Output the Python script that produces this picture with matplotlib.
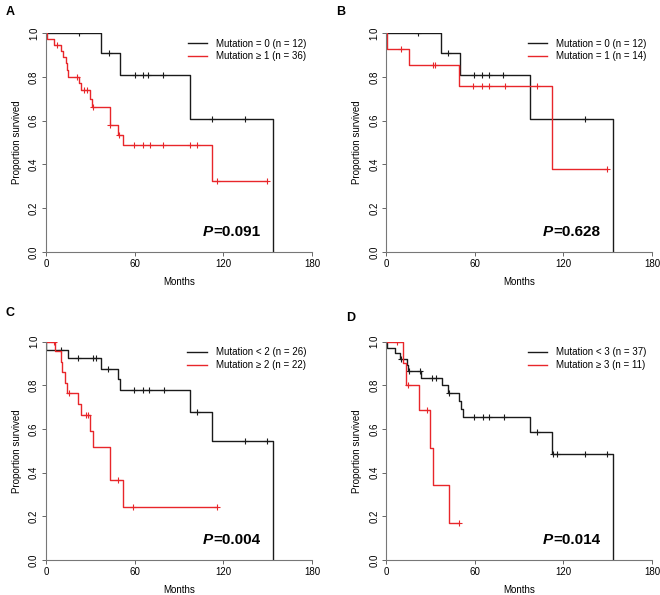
import numpy as np
import matplotlib
matplotlib.use('Agg')
import matplotlib.pyplot as plt

plt.rcParams['font.family'] = ['Liberation Sans', 'DejaVu Sans']

# ---- panel A ----
a_black_t = [0, 37.2, 50.0, 97.5, 153.4]
a_black_s = [1.0, 0.909, 0.808, 0.606, 0.0]
a_black_cens = [22.3, 42.9, 60.0, 65.4, 69.3, 79.4, 112.6, 134.7]
a_black_end = 153.4
a_red_t = [0, 0.4, 5.4, 9.9, 11.5, 13.3, 14.4, 14.9, 22.3, 24.0, 29.5, 31.4, 43.0, 48.7, 52.0, 112.3]
a_red_s = [1.0, 0.972, 0.944, 0.916, 0.890, 0.862, 0.833, 0.800, 0.770, 0.738, 0.700, 0.664, 0.581, 0.536, 0.487, 0.325]
a_red_cens = [7.7, 21.0, 25.7, 27.5, 32.0, 43.5, 49.5, 59.6, 65.4, 70.4, 79.4, 97.5, 102.4, 115.5, 149.3]
a_red_end = 149.3

# ---- panel B ----
b_black_t = [0, 37.2, 50.0, 97.5, 153.4]
b_black_s = [1.0, 0.909, 0.808, 0.606, 0.0]
b_black_cens = [21.9, 42.2, 59.8, 65.2, 69.3, 79.4, 134.7]
b_black_end = 153.4
b_red_t = [0, 0.3, 15.3, 49.0, 112.1]
b_red_s = [1.0, 0.929, 0.852, 0.757, 0.378]
b_red_cens = [10.2, 32.0, 33.0, 59.1, 64.7, 69.9, 80.5, 102.4, 149.3]
b_red_end = 149.3

# ---- panel C ----
c_black_t = [0, 0.3, 15.1, 37.2, 49.0, 50.0, 97.5, 112.1, 153.4]
c_black_s = [1.0, 0.962, 0.925, 0.877, 0.830, 0.779, 0.680, 0.546, 0.0]
c_black_cens = [10.2, 21.9, 32.0, 33.6, 42.2, 59.6, 65.4, 69.7, 80.0, 102.4, 134.7, 149.3]
c_black_end = 153.4
c_red_t = [0, 6.1, 9.9, 11.0, 12.9, 14.0, 21.9, 23.7, 29.8, 32.0, 43.3, 52.3]
c_red_s = [1.0, 0.955, 0.909, 0.860, 0.811, 0.766, 0.714, 0.663, 0.590, 0.517, 0.368, 0.245]
c_red_cens = [5.6, 15.4, 27.0, 28.2, 49.0, 59.1, 115.5]
c_red_end = 115.5

# ---- panel D ----
d_black_t = [0, 0.3, 5.9, 9.3, 14.4, 15.1, 23.5, 37.7, 42.2, 49.4, 50.5, 52.1, 97.5, 112.1, 153.4]
d_black_s = [1.0, 0.973, 0.946, 0.920, 0.893, 0.866, 0.835, 0.801, 0.767, 0.730, 0.693, 0.657, 0.584, 0.486, 0.0]
d_black_cens = [10.0, 15.8, 23.0, 30.9, 33.8, 42.9, 59.8, 65.4, 69.9, 80.1, 102.4, 113.2, 115.5, 134.7, 149.3]
d_black_end = 153.4
d_red_t = [0, 11.3, 13.5, 22.6, 29.8, 32.0, 42.6]
d_red_s = [1.0, 0.900, 0.800, 0.686, 0.514, 0.343, 0.171]
d_red_cens = [7.2, 15.0, 27.5, 49.4]
d_red_end = 49.4

panels = [
    ('A', [0.0697, 0.5765, 0.403, 0.368], (6, 12),
     (a_black_t, a_black_s, a_black_cens, a_black_end),
     (a_red_t, a_red_s, a_red_cens, a_red_end),
     ['Mutation = 0 (n = 12)', 'Mutation \u2265 1 (n = 36)'], '0.091'),
    ('B', [0.585, 0.5765, 0.403, 0.368], (336, 12),
     (b_black_t, b_black_s, b_black_cens, b_black_end),
     (b_red_t, b_red_s, b_red_cens, b_red_end),
     ['Mutation = 0 (n = 12)', 'Mutation = 1 (n = 14)'], '0.628'),
    ('C', [0.0697, 0.0588, 0.403, 0.367], (6, 313),
     (c_black_t, c_black_s, c_black_cens, c_black_end),
     (c_red_t, c_red_s, c_red_cens, c_red_end),
     ['Mutation < 2 (n = 26)', 'Mutation \u2265 2 (n = 22)'], '0.004'),
    ('D', [0.585, 0.0588, 0.403, 0.367], (346, 318),
     (d_black_t, d_black_s, d_black_cens, d_black_end),
     (d_red_t, d_red_s, d_red_cens, d_red_end),
     ['Mutation < 3 (n = 37)', 'Mutation \u2265 3 (n = 11)'], '0.014'),
]


def km_curve(ax, t, s, cens, end, color):
    x = list(t) + [end]
    y = list(s) + [s[-1]]
    line, = ax.plot(x, y, drawstyle='steps-post', color=color, lw=1.0)
    idx = np.searchsorted(t, cens, side='right') - 1
    cy = np.array(s)[idx]
    ax.plot(cens, cy, linestyle='none', marker='+', color=color,
            markersize=5, markeredgewidth=0.8)
    return line


fig = plt.figure(figsize=(6.6, 5.95), dpi=100)
for letter, rect, lpos, black, red, labels, pval in panels:
    ax = fig.add_axes(rect)
    l1 = km_curve(ax, *black, color='#1a1a1a')
    l2 = km_curve(ax, *red, color='#e8262a')
    ax.set_xlim(0, 180)
    ax.set_ylim(0, 1)
    ax.set_xticks([0, 60, 120, 180])
    ax.set_yticks([0, 0.2, 0.4, 0.6, 0.8, 1.0])
    ax.set_yticklabels(['0.0', '0.2', '0.4', '0.6', '0.8', '1.0'], rotation=90, va='center')
    ax.tick_params(labelsize=7, length=3, width=0.7, color='#666666', pad=2)
    for sp in ['top', 'right']:
        ax.spines[sp].set_visible(False)
    for sp in ['left', 'bottom']:
        ax.spines[sp].set_color('#777777')
        ax.spines[sp].set_linewidth(0.8)
    ax.set_xlabel('Months', fontsize=7, labelpad=6)
    ax.set_ylabel('Proportion survived', fontsize=7, labelpad=5)
    ax.legend([l1, l2], labels, loc='upper right', bbox_to_anchor=(1.0, 1.0),
              frameon=False, fontsize=7, handlelength=2.0, handletextpad=0.9,
              labelspacing=0.25, borderaxespad=0.2)
    ptxt = ax.text(0.59, 0.09, 'P', fontsize=11, fontweight='bold', fontstyle='italic',
                   transform=ax.transAxes, va='center', ha='left')
    ax.annotate('=' + pval, xy=(1.0, 0.5), xycoords=ptxt, fontsize=11,
                fontweight='bold', va='center', ha='left')
    fig.text(lpos[0] / 660, 1 - lpos[1] / 595, letter, fontsize=9, fontweight='bold',
             va='center', ha='left')

fig.savefig('out.png', dpi=100)
